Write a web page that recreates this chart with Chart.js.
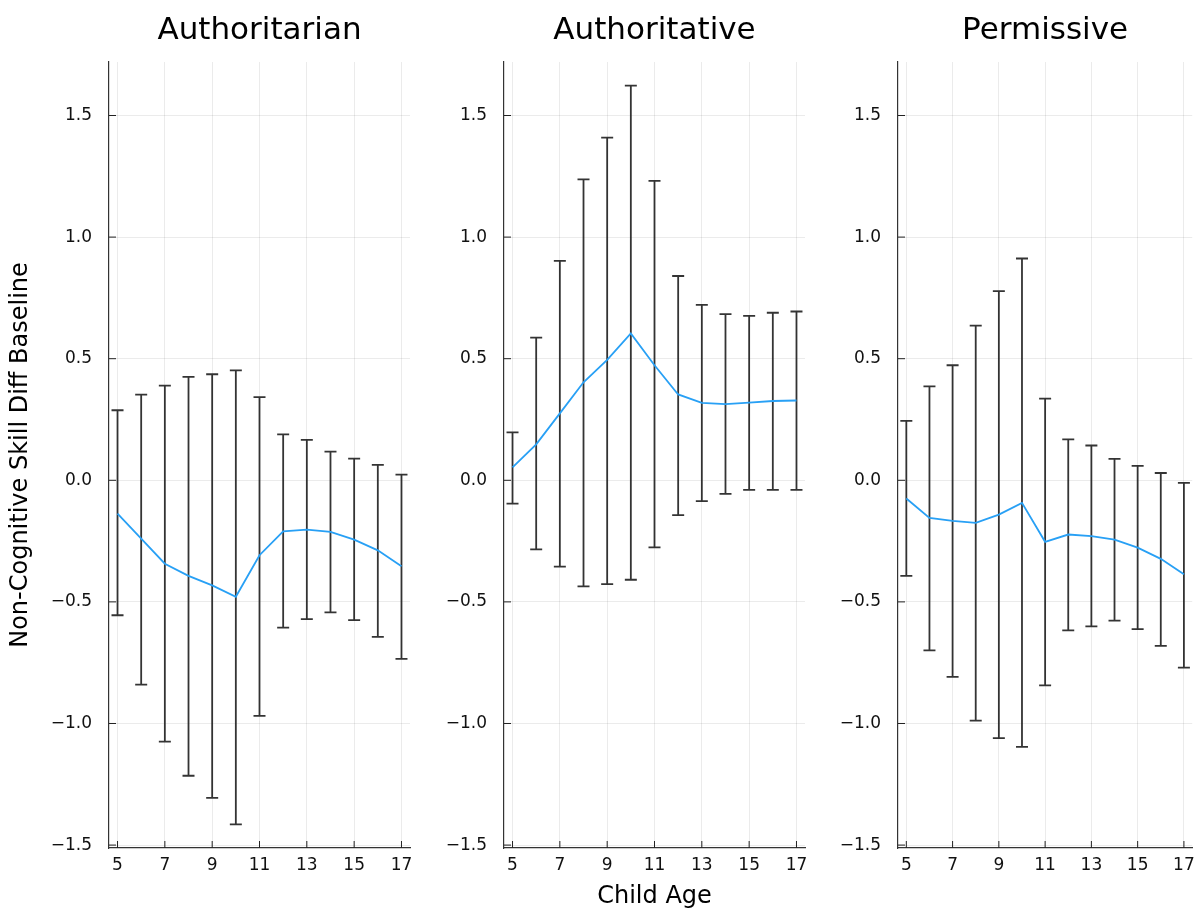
<!DOCTYPE html>
<html>
<head>
<meta charset="utf-8">
<script src="https://cdn.jsdelivr.net/npm/chart.js@4/dist/chart.umd.min.js"></script>
<style>
  body { margin: 0; background: #fff; }
  canvas { position: absolute; top: 0; }
</style>
</head>
<body>
<canvas id="p1" width="420" height="909" style="left:0"></canvas>
<canvas id="p2" width="395" height="909" style="left:420px"></canvas>
<canvas id="p3" width="387" height="909" style="left:815px"></canvas>
<script>
const ages = [5, 6, 7, 8, 9, 10, 11, 12, 13, 14, 15, 16, 17]
const xTicks = [5, 7, 9, 11, 13, 15, 17]
const yTicks = [-1.5, -1, -0.5, 0, 0.5, 1, 1.5]
const panelTitles = ['Authoritarian', 'Authoritative', 'Permissive']

const authoritarianMean = [-0.137, -0.240, -0.343, -0.393, -0.432, -0.479, -0.308, -0.210, -0.203, -0.212, -0.244, -0.288, -0.353]
const authoritarianLow  = [-0.555, -0.840, -1.075, -1.215, -1.306, -1.415, -0.969, -0.606, -0.571, -0.543, -0.575, -0.644, -0.734]
const authoritarianHigh = [0.288, 0.352, 0.389, 0.425, 0.436, 0.452, 0.342, 0.189, 0.166, 0.118, 0.089, 0.063, 0.023]

const authoritativeMean = [0.053, 0.148, 0.275, 0.403, 0.495, 0.604, 0.473, 0.353, 0.318, 0.313, 0.319, 0.326, 0.328]
const authoritativeLow  = [-0.096, -0.284, -0.355, -0.436, -0.427, -0.409, -0.276, -0.143, -0.086, -0.056, -0.039, -0.039, -0.039]
const authoritativeHigh = [0.197, 0.587, 0.902, 1.237, 1.409, 1.623, 1.231, 0.840, 0.721, 0.683, 0.676, 0.689, 0.694]

const permissiveMean = [-0.075, -0.155, -0.167, -0.175, -0.141, -0.093, -0.253, -0.223, -0.230, -0.244, -0.277, -0.323, -0.386]
const permissiveLow  = [-0.393, -0.699, -0.808, -0.988, -1.060, -1.096, -0.843, -0.617, -0.601, -0.577, -0.612, -0.681, -0.770]
const permissiveHigh = [0.244, 0.386, 0.473, 0.636, 0.778, 0.912, 0.336, 0.168, 0.143, 0.088, 0.059, 0.030, -0.011]

const FONT = 'DejaVu Sans'

// error bars + inward tick marks, drawn from the chart scales
const errorBars = {
    id: 'errorBars',
    beforeDatasetsDraw(chart) {
        const { ctx, chartArea, scales: { x, y } } = chart
        const ds = chart.data.datasets[0]
        ctx.save()
        ctx.strokeStyle = '#222'
        ctx.lineWidth = 1
        y.ticks.forEach((t) => {
            const py = y.getPixelForValue(t.value)
            ctx.beginPath(); ctx.moveTo(chartArea.left, py); ctx.lineTo(chartArea.left + 7, py); ctx.stroke()
        })
        x.ticks.forEach((t) => {
            const px = x.getPixelForValue(t.value)
            ctx.beginPath(); ctx.moveTo(px, chartArea.bottom); ctx.lineTo(px, chartArea.bottom - 7); ctx.stroke()
        })
        ctx.strokeStyle = 'rgba(30,30,30,0.9)'
        ctx.lineWidth = 1.8
        ds.errLow.forEach((lo, i) => {
            const px = x.getPixelForValue(ages[i])
            const top = y.getPixelForValue(ds.errHigh[i])
            const bot = y.getPixelForValue(lo)
            ctx.beginPath()
            ctx.moveTo(px, top); ctx.lineTo(px, bot)
            ctx.moveTo(px - 6, top); ctx.lineTo(px + 6, top)
            ctx.moveTo(px - 6, bot); ctx.lineTo(px + 6, bot)
            ctx.stroke()
        })
        ctx.restore()
    }
}

const fmtY = (v) => v < 0 ? '\u2212' + Math.abs(v).toFixed(1) : Math.abs(v).toFixed(1)

const makePanel = (id, title, mean, low, high, yWidth, padRight, showYTitle, showXTitle) => {
    new Chart(document.getElementById(id), {
        type: 'line',
        data: {
            datasets: [{
                data: ages.map((a, i) => ({ x: a, y: mean[i] })),
                errLow: low,
                errHigh: high,
                borderColor: 'rgb(40,160,245)',
                borderWidth: 1.8,
                pointRadius: 0,
                tension: 0,
                fill: false
            }]
        },
        options: {
            responsive: false,
            animation: false,
            layout: { padding: { left: 0, right: padRight, top: 0, bottom: 0 } },
            plugins: {
                legend: { display: false },
                tooltip: { enabled: false },
                title: {
                    display: true,
                    fullSize: false,
                    text: title,
                    color: '#000',
                    font: { family: FONT, size: 31, weight: 'normal', lineHeight: 1.2 },
                    padding: { top: 12.7, bottom: 12.1 }
                }
            },
            scales: {
                x: {
                    type: 'linear',
                    min: 4.64,
                    max: 17.36,
                    afterBuildTicks: (s) => { s.ticks = xTicks.map((v) => ({ value: v })) },
                    afterFit: (s) => { s.height = 61 },
                    grid: { color: 'rgba(0,0,0,0.08)', drawTicks: false },
                    border: { color: '#333', width: 1.2 },
                    ticks: { color: '#111', padding: 7, maxRotation: 0, font: { family: FONT, size: 17 } },
                    title: {
                        display: showXTitle,
                        text: 'Child Age',
                        color: '#000',
                        font: { family: FONT, size: 24, lineHeight: 1 },
                        padding: { top: 0, bottom: 0 }
                    }
                },
                y: {
                    min: -1.512,
                    max: 1.72,
                    afterBuildTicks: (s) => { s.ticks = yTicks.map((v) => ({ value: v })) },
                    afterFit: (s) => { s.width = yWidth },
                    grid: { color: 'rgba(0,0,0,0.08)', drawTicks: false },
                    border: { color: '#333', width: 1.2 },
                    ticks: { color: '#111', padding: 17, font: { family: FONT, size: 17 }, callback: fmtY },
                    title: {
                        display: showYTitle,
                        text: 'Non-Cognitive Skill Diff Baseline',
                        color: '#000',
                        font: { family: FONT, size: 24, lineHeight: 1 },
                        padding: { top: 9, bottom: 0 }
                    }
                }
            }
        },
        plugins: [errorBars]
    })
}

makePanel('p1', panelTitles[0], authoritarianMean, authoritarianLow, authoritarianHigh, 109, 10, true, false)
makePanel('p2', panelTitles[1], authoritativeMean, authoritativeLow, authoritativeHigh, 84, 10, false, true)
makePanel('p3', panelTitles[2], permissiveMean, permissiveLow, permissiveHigh, 83, 2, false, false)
</script>
</body>
</html>
